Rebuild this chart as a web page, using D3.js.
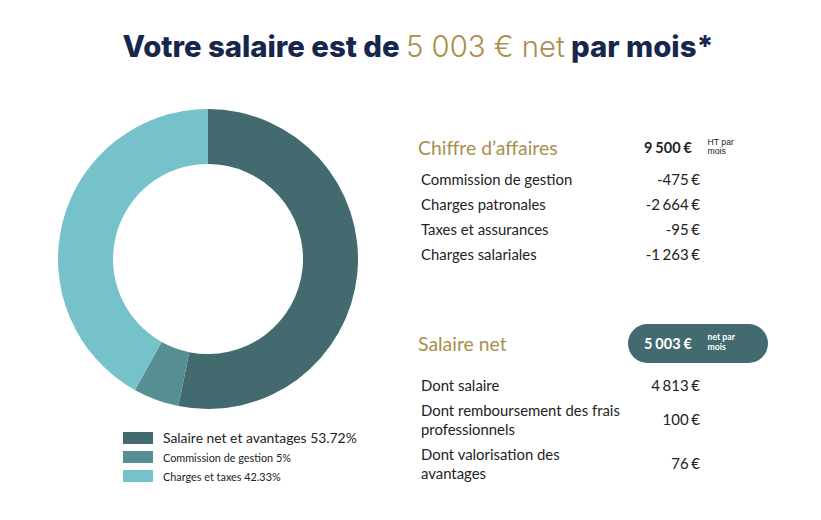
<!DOCTYPE html>
<html>
<head>
<meta charset="utf-8">
<script src="https://cdn.jsdelivr.net/npm/d3@7"></script>
<style>
  html, body { margin: 0; padding: 0; background: #fff; }
  text { font-family: Lato, sans-serif; fill: #222; }
</style>
</head>
<body>
<div id="chart"></div>
<script>
const sliceLabels = ["Salaire net et avantages 53.72%", "Commission de gestion 5%", "Charges et taxes 42.33%"];
const sliceValues = [53.72, 5, 42.33];
const sliceColors = ["#426a6f", "#558f94", "#76c2ca"];

const revenueLabels = ["Commission de gestion", "Charges patronales", "Taxes et assurances", "Charges salariales"];
const revenueValues = ["-475 €", "-2 664 €", "-95 €", "-1 263 €"];

const salaryLabels = [["Dont salaire"], ["Dont remboursement des frais", "professionnels"], ["Dont valorisation des", "avantages"]];
const salaryValues = ["4 813 €", "100 €", "76 €"];

const gold = "#ab8e4e", navy = "#17264d";

const svg = d3.select("#chart").append("svg")
    .attr("width", 821)
    .attr("height", 520)
    .style("display", "block");

// Title
const title = svg.append("text")
    .attr("x", 418)
    .attr("y", 57)
    .attr("text-anchor", "middle")
    .style("font-family", "Inter, sans-serif")
    .style("font-size", "29.3px");
title.append("tspan").text("Votre salaire est de ").style("fill", navy).style("font-weight", 800);
title.append("tspan").text("5 003 € net").style("fill", gold).style("font-weight", 300);
title.append("tspan").text(" par mois*").style("fill", navy).style("font-weight", 800);

// Donut
const pie = d3.pie().sort(null);
const arc = d3.arc().innerRadius(95).outerRadius(150);

svg.append("g")
    .attr("transform", "translate(208,259)")
  .selectAll("path")
    .data(pie(sliceValues))
    .enter().append("path")
    .attr("d", arc)
    .attr("fill", (d, i) => sliceColors[i]);

// Legend
const legend = svg.selectAll(".legend")
    .data(sliceLabels)
    .enter().append("g")
    .attr("class", "legend")
    .attr("transform", (d, i) => `translate(123,${432 + i * 19})`);

legend.append("rect")
    .attr("width", 30)
    .attr("height", 12)
    .attr("fill", (d, i) => sliceColors[i]);

legend.append("text")
    .attr("x", 40)
    .attr("y", 11)
    .style("font-size", (d, i) => i === 0 ? "13.9px" : "10.85px")
    .text(d => d);

// Revenue block
svg.append("text").attr("x", 418).attr("y", 155)
    .style("font-size", "19.4px").style("fill", gold).text("Chiffre d’affaires");
svg.append("text").attr("x", 692).attr("y", 153).attr("text-anchor", "end")
    .style("font-size", "14.5px").style("font-weight", 700).style("word-spacing", "-0.5px").text("9 500 €");
svg.append("text").attr("x", 707.5).attr("y", 145)
    .style("font-family", "Liberation Sans, sans-serif").style("font-size", "8.7px").text("HT par");
svg.append("text").attr("x", 707.5).attr("y", 154)
    .style("font-family", "Liberation Sans, sans-serif").style("font-size", "8.7px").text("mois");

const revenueY = d3.scalePoint().domain(revenueLabels).range([185, 260]);

svg.selectAll(".rev-label")
    .data(revenueLabels)
    .enter().append("text")
    .attr("class", "rev-label")
    .attr("x", 421)
    .attr("y", d => revenueY(d))
    .style("font-size", "14.9px")
    .text(d => d);

svg.selectAll(".rev-value")
    .data(revenueValues)
    .enter().append("text")
    .attr("class", "rev-value")
    .attr("x", 700)
    .attr("y", (d, i) => revenueY(revenueLabels[i]))
    .attr("text-anchor", "end")
    .style("font-size", "15px")
    .style("word-spacing", "-1.2px")
    .text(d => d);

// Net salary block
svg.append("text").attr("x", 418).attr("y", 351)
    .style("font-size", "19.4px").style("fill", gold).text("Salaire net");
svg.append("rect")
    .attr("x", 628).attr("y", 324)
    .attr("width", 140).attr("height", 39)
    .attr("rx", 19.5)
    .attr("fill", sliceColors[0]);
svg.append("text").attr("x", 692).attr("y", 349).attr("text-anchor", "end")
    .style("font-size", "14.5px").style("font-weight", 700).style("fill", "#fff").style("word-spacing", "-0.5px").text("5 003 €");
svg.append("text").attr("x", 707.5).attr("y", 340)
    .style("font-size", "8.7px").style("font-weight", 700).style("fill", "#fff").text("net par");
svg.append("text").attr("x", 707.5).attr("y", 350)
    .style("font-size", "8.7px").style("font-weight", 700).style("fill", "#fff").text("mois");

const salaryRowY = [391, 425, 469];
const salaryRow = svg.selectAll(".sal-row")
    .data(salaryLabels)
    .enter().append("g")
    .attr("class", "sal-row");

salaryRow.selectAll("text")
    .data((d, i) => d.map((line, j) => ({line, y: salaryRowY[i] + (d.length > 1 ? (j - 0.5) * 19 : 0)})))
    .enter().append("text")
    .attr("x", 421)
    .attr("y", d => d.y)
    .style("font-size", "14.9px")
    .text(d => d.line);

svg.selectAll(".sal-value")
    .data(salaryValues)
    .enter().append("text")
    .attr("class", "sal-value")
    .attr("x", 700)
    .attr("y", (d, i) => salaryRowY[i])
    .attr("text-anchor", "end")
    .style("font-size", "15px")
    .style("word-spacing", "-1.2px")
    .text(d => d);
</script>
</body>
</html>
